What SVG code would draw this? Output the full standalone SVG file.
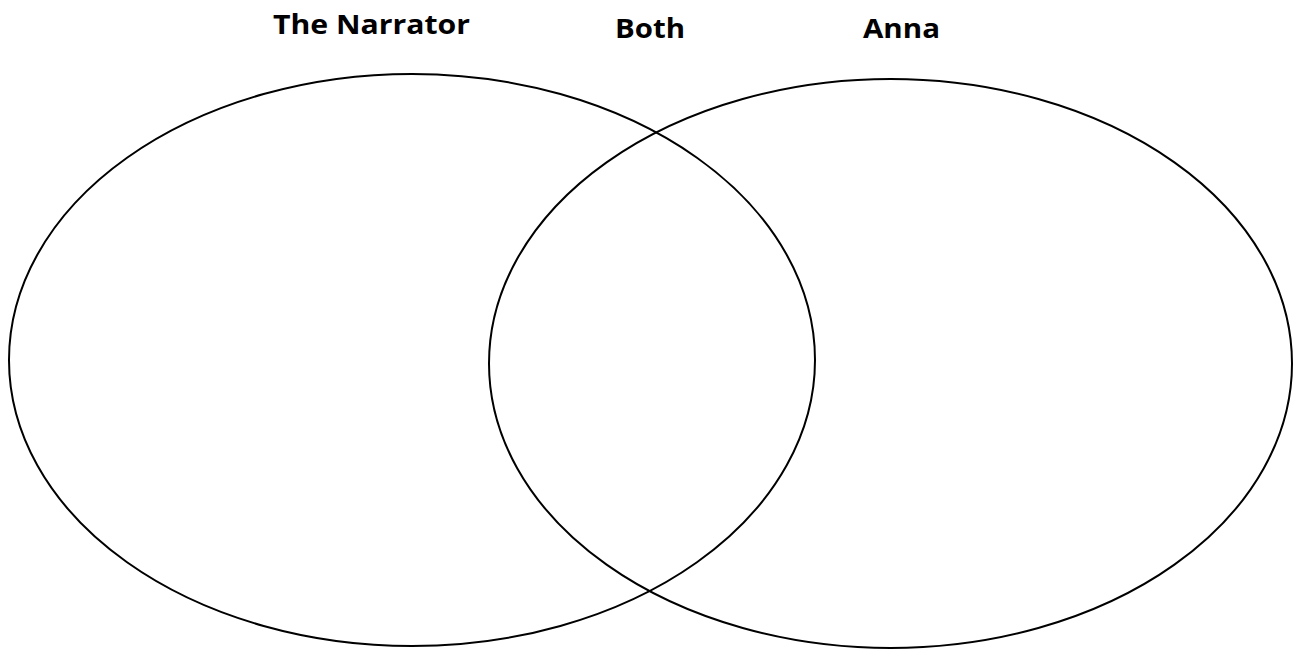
<svg xmlns="http://www.w3.org/2000/svg" width="1295" height="650" viewBox="0 0 1295 650">
<style>
.lbl{font-family:"Open Sans","Liberation Sans",sans-serif;font-weight:bold;font-size:26px;fill:#000;text-anchor:middle}
.circ{fill:none;stroke:#000;stroke-width:2}
</style>
<rect width="1295" height="650" fill="#fff"/>
<g id="narrator">
<ellipse class="circ" cx="412" cy="360" rx="403" ry="286"/>
<text class="lbl" x="371.5" y="34" textLength="197" lengthAdjust="spacingAndGlyphs">The Narrator</text>
</g>
<g id="both">
<text class="lbl" x="650" y="38" textLength="70" lengthAdjust="spacingAndGlyphs">Both</text>
</g>
<g id="anna">
<ellipse class="circ" cx="890.5" cy="363.5" rx="401.5" ry="284.5"/>
<text class="lbl" x="901.5" y="38" textLength="77" lengthAdjust="spacingAndGlyphs">Anna</text>
</g>
<g id="connectors"></g>
</svg>
